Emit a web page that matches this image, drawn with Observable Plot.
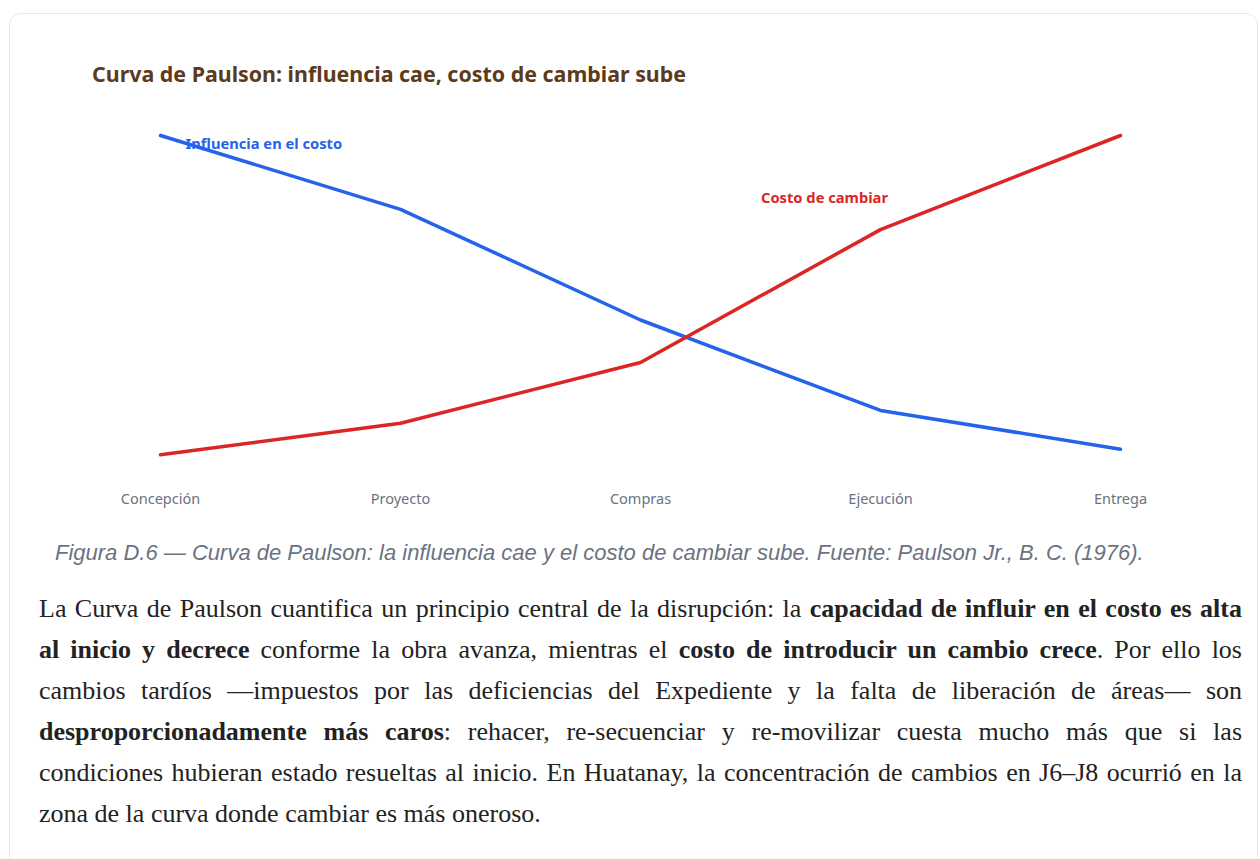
<!DOCTYPE html>
<html>
<head>
<meta charset="utf-8">
<script src="https://cdn.jsdelivr.net/npm/d3@7"></script>
<script src="https://cdn.jsdelivr.net/npm/@observablehq/plot@0.6"></script>
<style>
  html, body { margin: 0; padding: 0; background: #fff; width: 1260px; height: 859px; overflow: hidden; }
  .card { position: absolute; left: 9px; top: 13px; width: 1249px; height: 900px; border: 1.5px solid #e5e7eb; border-radius: 12px; box-sizing: border-box; }
  #title { position: absolute; left: 92px; top: 60px; font-family: "Noto Sans", "Open Sans", sans-serif; font-weight: 700; font-size: 21.4px; line-height: 28px; color: #5c3a1a; white-space: nowrap; }
  #chart { position: absolute; left: 0; top: 0; }
  #caption { position: absolute; left: 55px; top: 540px; font-family: "Liberation Sans", Arial, sans-serif; font-style: italic; font-size: 22px; line-height: 26px; color: #6b7280; white-space: nowrap; }
  #body { position: absolute; left: 39px; top: 588px; width: 1203px; font-family: "Liberation Serif", "Times New Roman", serif; font-size: 26px; line-height: 41px; color: #222; }
  #body .l { text-align: justify; text-align-last: justify; white-space: nowrap; }
  #body .last { text-align: left; text-align-last: left; }
</style>
</head>
<body>
<div class="card"></div>
<div id="chart"></div>
<div id="title">Curva de Paulson: influencia cae, costo de cambiar sube</div>
<div id="caption">Figura D.6 — Curva de Paulson: la influencia cae y el costo de cambiar sube. Fuente: Paulson Jr., B. C. (1976).</div>
<div id="body">
  <div class="l">La Curva de Paulson cuantifica un principio central de la disrupción: la <b>capacidad de influir en el costo es alta</b></div>
  <div class="l"><b>al inicio y decrece</b> conforme la obra avanza, mientras el <b>costo de introducir un cambio crece</b>. Por ello los</div>
  <div class="l">cambios tardíos —impuestos por las deficiencias del Expediente y la falta de liberación de áreas— son</div>
  <div class="l"><b>desproporcionadamente más caros</b>: rehacer, re-secuenciar y re-movilizar cuesta mucho más que si las</div>
  <div class="l">condiciones hubieran estado resueltas al inicio. En Huatanay, la concentración de cambios en J6–J8 ocurrió en la</div>
  <div class="l last">zona de la curva donde cambiar es más oneroso.</div>
</div>
<script>
// ---- data ----
const stages = ["Concepción", "Proyecto", "Compras", "Ejecución", "Entrega"];
const influencia = [100, 80, 50, 25.5, 15];
const costoCambio = [13.5, 22, 38.5, 74.5, 100];
const seriesNames = ["Influencia en el costo", "Costo de cambiar"];
const labelStages = ["Concepción", "Ejecución"];
const labelValues = [100, 83];

// ---- build tables ----
const rows = [];
stages.forEach((s, i) => rows.push({stage: s, value: influencia[i], series: seriesNames[0]}));
stages.forEach((s, i) => rows.push({stage: s, value: costoCambio[i], series: seriesNames[1]}));
const colors = {[seriesNames[0]]: "#2563eb", [seriesNames[1]]: "#dc2626"};
const labels = seriesNames.map((n, i) => ({series: n, stage: labelStages[i], value: labelValues[i]}));

const chart = Plot.plot({
  width: 1260,
  height: 530,
  marginTop: 0,
  marginBottom: 40,
  marginLeft: 0,
  marginRight: 0,
  style: {fontFamily: "'Noto Sans', 'Open Sans', sans-serif", fontSize: "14.5px", background: "transparent"},
  x: {type: "point", domain: stages, range: [158, 1121], padding: 0, label: null},
  y: {domain: [0, 100], range: [504, 135], axis: null},
  marks: [
    Plot.axisX({tickSize: 0, tickPadding: 3, color: "#6b7280", fontSize: 14.5, label: null}),
    Plot.line(rows, {x: "stage", y: "value", z: "series", stroke: d => colors[d.series], strokeWidth: 3.5, strokeLinejoin: "round"}),
    Plot.text(labels.slice(0, 1), {x: "stage", y: "value", text: "series", fill: d => colors[d.series], fontWeight: 700, fontSize: 14.7, textAnchor: "start", dx: 25, dy: 9}),
    Plot.text(labels.slice(1), {x: "stage", y: "value", text: "series", fill: d => colors[d.series], fontWeight: 700, fontSize: 14.7, textAnchor: "middle", dx: -56})
  ]
});
document.getElementById("chart").appendChild(chart);
</script>
</body>
</html>
